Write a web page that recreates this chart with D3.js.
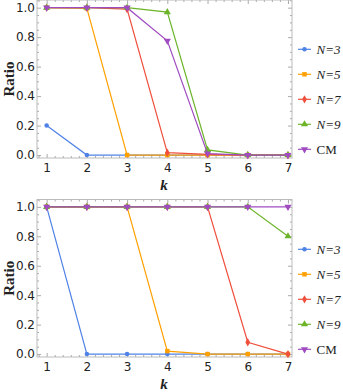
<!DOCTYPE html>
<html lang="en">
	<head>
		<meta charset="utf-8">
		<title>Ratio vs k</title>
		<script type="text/javascript" src="https://cdn.jsdelivr.net/npm/d3@7"></script>
		<style type="text/css">
			body {
				margin: 0px;
				background: white;
			}
			.tick text {
				font-family: "DejaVu Sans", sans-serif;
				font-size: 12px;
				fill: #222;
			}
			.axis path {
				display: none;
			}
			.axis line {
				stroke: #aaa;
			}
		</style>
	</head>
	<body>
		<div id="chart"></div>
		<script type="text/javascript">
			//Data
			var kValues = [1, 2, 3, 4, 5, 6, 7];
			var seriesNames = ["N=3", "N=5", "N=7", "N=9", "CM"];
			var colors = ["#4f82e6", "#ffa000", "#ef4f3c", "#6cb42a", "#a04cc0"];
			var shapes = ["circle", "square", "diamond", "up", "down"];

			//top panel
			var topN3 = [0.2, 0, 0, 0, 0, 0, 0];
			var topN5 = [1, 0.995, 0, 0, 0, 0, 0];
			var topN7 = [1, 1, 0.99, 0.016, 0.005, 0, 0];
			var topN9 = [1, 1, 1, 0.97, 0.035, 0, 0];
			var topCM = [1, 1, 1, 0.775, 0.01, 0, 0];

			//bottom panel
			var botN3 = [1, 0, 0, 0, 0, 0, 0];
			var botN5 = [1, 1, 1, 0.02, 0, 0, 0];
			var botN7 = [1, 1, 1, 1, 1, 0.08, 0];
			var botN9 = [1, 1, 1, 1, 1, 1, 0.8];
			var botCM = [1, 1, 1, 1, 1, 1, 1];

			var yTicks = [0, 0.2, 0.4, 0.6, 0.8, 1.0];

			var w = 343;
			var h = 392;

			var svg = d3.select("#chart")
				.append("svg")
				.attr("width", w)
				.attr("height", h);

			var x = d3.scaleLinear()
				.domain([0.76, 7.1])
				.range([37, 292]);

			var symbolFor = {
				circle: d3.symbol().type(d3.symbolCircle).size(16),
				square: d3.symbol().type(d3.symbolSquare).size(20),
				diamond: d3.symbol().type(d3.symbolDiamond).size(20),
				up: d3.symbol().type(d3.symbolTriangle).size(22)
			};

			function drawMarker(sel, shape) {
				if (shape == "down") {
					sel.append("path")
						.attr("d", d3.symbol().type(d3.symbolTriangle).size(22)())
						.attr("transform", "rotate(180)");
				} else {
					sel.append("path").attr("d", symbolFor[shape]());
				}
			}

			function drawPanel(top, bottom, yDomain, series, legendTop) {
				var y = d3.scaleLinear()
					.domain(yDomain)
					.range([bottom, top]);

				var g = svg.append("g");

				//minor ticks
				var xMinor = d3.range(0.8, 7.1, 0.2).filter(function(v) {
					return Math.abs(v - Math.round(v)) > 0.01;
				});
				var yMinor = d3.range(0, 1.06, 0.05).filter(function(v) {
					return Math.abs(v * 5 - Math.round(v * 5)) > 0.01;
				});

				g.append("g")
					.attr("class", "axis")
					.attr("transform", "translate(0," + bottom + ")")
					.call(d3.axisBottom(x).tickValues(xMinor).tickSize(-2).tickFormat(""));
				g.append("g")
					.attr("class", "axis")
					.attr("transform", "translate(0," + top + ")")
					.call(d3.axisTop(x).tickValues(xMinor).tickSize(-2).tickFormat(""));
				g.append("g")
					.attr("class", "axis")
					.attr("transform", "translate(37,0)")
					.call(d3.axisLeft(y).tickValues(yMinor).tickSize(-2).tickFormat(""));
				g.append("g")
					.attr("class", "axis")
					.attr("transform", "translate(292,0)")
					.call(d3.axisRight(y).tickValues(yMinor).tickSize(-2).tickFormat(""));

				//major ticks
				g.append("g")
					.attr("class", "axis")
					.attr("transform", "translate(0," + bottom + ")")
					.call(d3.axisBottom(x).tickValues(kValues).tickSize(-4).tickPadding(5).tickFormat(d3.format("d")));
				g.append("g")
					.attr("class", "axis")
					.attr("transform", "translate(0," + top + ")")
					.call(d3.axisTop(x).tickValues(kValues).tickSize(-4).tickFormat(""));
				g.append("g")
					.attr("class", "axis")
					.attr("transform", "translate(37,0)")
					.call(d3.axisLeft(y).tickValues(yTicks).tickSize(-4).tickPadding(2).tickFormat(d3.format(".1f")));
				g.append("g")
					.attr("class", "axis")
					.attr("transform", "translate(292,0)")
					.call(d3.axisRight(y).tickValues(yTicks).tickSize(-4).tickFormat(""));

				//frame
				g.append("rect")
					.attr("x", 37)
					.attr("y", top)
					.attr("width", 292 - 37)
					.attr("height", bottom - top)
					.attr("fill", "none")
					.attr("stroke", "#bbb")
					.attr("stroke-width", 1);

				//axis labels
				g.append("text")
					.attr("transform", "translate(14," + ((top + bottom) / 2) + ") rotate(-90)")
					.attr("text-anchor", "middle")
					.attr("font-family", "Liberation Serif, serif")
					.attr("font-weight", "bold")
					.attr("font-size", "15px")
					.attr("fill", "#222")
					.text("Ratio");

				g.append("text")
					.attr("x", 164)
					.attr("y", bottom + 32)
					.attr("text-anchor", "middle")
					.attr("font-family", "Liberation Serif, serif")
					.attr("font-weight", "bold")
					.attr("font-style", "italic")
					.attr("font-size", "15px")
					.attr("fill", "#222")
					.text("k");

				//lines and markers
				var line = d3.line()
					.x(function(d, i) { return x(kValues[i]); })
					.y(function(d) { return y(d); });

				series.forEach(function(vals, s) {
					g.append("path")
						.attr("d", line(vals))
						.attr("fill", "none")
						.attr("stroke", colors[s])
						.attr("stroke-width", 1.2);

					vals.forEach(function(v, i) {
						var m = g.append("g")
							.attr("transform", "translate(" + x(kValues[i]) + "," + y(v) + ")")
							.attr("fill", colors[s]);
						drawMarker(m, shapes[s]);
					});
				});

				//legend
				seriesNames.forEach(function(name, s) {
					var ly = legendTop + s * 25;
					var lg = g.append("g")
						.attr("transform", "translate(304.5," + ly + ")");
					lg.append("line")
						.attr("x1", -6.5)
						.attr("x2", 6.5)
						.attr("stroke", colors[s])
						.attr("stroke-width", 1.2);
					var m = lg.append("g").attr("fill", colors[s]);
					drawMarker(m, shapes[s]);

					var t = lg.append("text")
						.attr("x", 12)
						.attr("y", 4.5)
						.attr("font-family", "Liberation Serif, serif")
						.attr("font-size", "13px")
						.attr("fill", "#222");
					if (name == "CM") {
						t.text("CM");
					} else {
						t.attr("font-style", "italic").text(name);
					}
				});
			}

			drawPanel(0, 158, [-0.02, 1.052], [topN3, topN5, topN7, topN9, topCM], 49.3);
			drawPanel(199.5, 357, [-0.02, 1.05], [botN3, botN5, botN7, botN9, botCM], 249.3);
		</script>
	</body>
</html>
